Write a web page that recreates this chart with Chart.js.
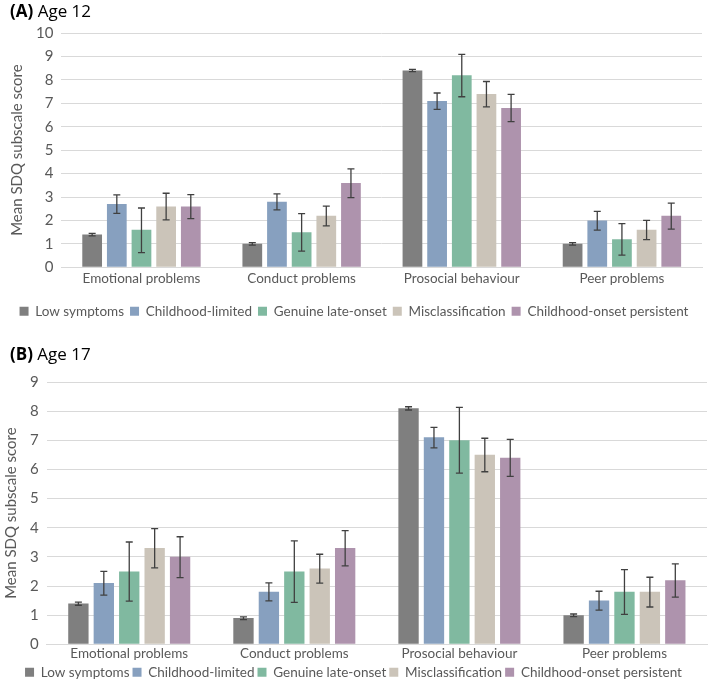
<!DOCTYPE html>
<html>
<head>
<meta charset="utf-8">
<script src="https://cdn.jsdelivr.net/npm/chart.js@4.4.1/dist/chart.umd.min.js"></script>
<style>
  html, body { margin:0; padding:0; background:#fff; }
  body { width:709px; height:689px; position:relative; overflow:hidden; font-family:Lato, sans-serif; }
  .wrap { position:absolute; left:0; width:709px; }
  .title { position:absolute; left:10px; font-size:17px; color:#000; font-family:"Open Sans", sans-serif; }
  .title b { font-weight:700; }
</style>
</head>
<body>
<div class="wrap" style="top:0;height:330px;"><canvas id="cA"></canvas></div>
<div class="wrap" style="top:330px;height:359px;"><canvas id="cB"></canvas></div>
<div class="title" style="top:-1px;"><b>(A)</b> Age 12</div>
<div class="title" style="top:342px;"><b>(B)</b> Age 17</div>
<script>
const categories = ["Emotional problems", "Conduct problems", "Prosocial behaviour", "Peer problems"];
const groups = ["Low symptoms", "Childhood-limited", "Genuine late-onset", "Misclassification", "Childhood-onset persistent"];
const groupColors = ["#7f7f7f", "#87a0bf", "#80b9a0", "#cbc4b9", "#ae93ad"];

// Age 12: means per group (order of categories)
const age12Low   = [1.4, 1.0, 8.4, 1.0];
const age12CL    = [2.7, 2.8, 7.1, 2.0];
const age12GLO   = [1.6, 1.5, 8.2, 1.2];
const age12Mis   = [2.6, 2.2, 7.4, 1.6];
const age12COP   = [2.6, 3.6, 6.8, 2.2];
// Age 12: error bar lower / upper
const age12LowLo = [1.34, 0.95, 8.35, 0.95];
const age12LowHi = [1.45, 1.05, 8.45, 1.05];
const age12CLLo  = [2.30, 2.45, 6.74, 1.59];
const age12CLHi  = [3.09, 3.13, 7.44, 2.39];
const age12GLOLo = [0.63, 0.69, 7.28, 0.52];
const age12GLOHi = [2.53, 2.29, 9.09, 1.86];
const age12MisLo = [2.02, 1.77, 6.85, 1.18];
const age12MisHi = [3.16, 2.61, 7.93, 2.00];
const age12COPLo = [2.08, 2.97, 6.22, 1.63];
const age12COPHi = [3.10, 4.20, 7.38, 2.74];

// Age 17
const age17Low   = [1.4, 0.9, 8.1, 1.0];
const age17CL    = [2.1, 1.8, 7.1, 1.5];
const age17GLO   = [2.5, 2.5, 7.0, 1.8];
const age17Mis   = [3.3, 2.6, 6.5, 1.8];
const age17COP   = [3.0, 3.3, 6.4, 2.2];
const age17LowLo = [1.34, 0.85, 8.04, 0.95];
const age17LowHi = [1.45, 0.94, 8.15, 1.04];
const age17CLLo  = [1.69, 1.49, 6.74, 1.17];
const age17CLHi  = [2.50, 2.11, 7.44, 1.82];
const age17GLOLo = [1.48, 1.44, 5.87, 1.03];
const age17GLOHi = [3.51, 3.55, 8.13, 2.56];
const age17MisLo = [2.62, 2.10, 5.92, 1.28];
const age17MisHi = [3.97, 3.09, 7.07, 2.30];
const age17COPLo = [2.29, 2.69, 5.76, 1.62];
const age17COPHi = [3.69, 3.90, 7.03, 2.76];

const yTicksA = [0,1,2,3,4,5,6,7,8,9,10];
const yTicksB = [0,1,2,3,4,5,6,7,8,9];

const textColor = "#595959";
const fontFam = "Lato, sans-serif";

const errorBarPlugin = {
  id: "errorBars",
  afterDatasetsDraw(chart) {
    const ctx = chart.ctx;
    const yScale = chart.scales.y;
    ctx.save();
    ctx.strokeStyle = "#404040";
    ctx.lineWidth = 1.3;
    chart.data.datasets.forEach((ds, i) => {
      const meta = chart.getDatasetMeta(i);
      meta.data.forEach((bar, j) => {
        const lo = yScale.getPixelForValue(ds.errLo[j]);
        const hi = yScale.getPixelForValue(ds.errHi[j]);
        const x = bar.x;
        const cap = 3.5;
        ctx.beginPath();
        ctx.moveTo(x, lo); ctx.lineTo(x, hi);
        ctx.moveTo(x - cap, lo); ctx.lineTo(x + cap, lo);
        ctx.moveTo(x - cap, hi); ctx.lineTo(x + cap, hi);
        ctx.stroke();
      });
    });
    ctx.restore();
  }
};

function makeDatasets(means, los, his) {
  return groups.map((g, i) => ({
    label: g,
    data: means[i],
    errLo: los[i],
    errHi: his[i],
    backgroundColor: groupColors[i],
    borderWidth: 0,
    categoryPercentage: 0.77,
    barPercentage: 0.8
  }));
}

function makeChart(id, datasets, ticks, pad, xTickPad, xExtra, legendPad) {
  return new Chart(document.getElementById(id), {
    type: "bar",
    data: { labels: categories, datasets },
    plugins: [errorBarPlugin],
    options: {
      responsive: true,
      maintainAspectRatio: false,
      animation: false,
      layout: { padding: pad },
      plugins: {
        legend: {
          position: "bottom",
          labels: {
            color: textColor,
            font: { family: fontFam, size: 13.5 },
            boxWidth: 9, boxHeight: 9,
            padding: legendPad,
          }
        },
        tooltip: { enabled: false }
      },
      scales: {
        x: {
          grid: { display: false, drawTicks: false },
          border: { display: true, color: "#d9d9d9", width: 1 },
          ticks: { color: textColor, font: { family: fontFam, size: 13.5 }, padding: xTickPad },
          afterFit(scale) { scale.height += xExtra; }
        },
        y: {
          min: 0, max: ticks[ticks.length - 1],
          afterBuildTicks(scale) { scale.ticks = ticks.map(v => ({ value: v })); },
          grid: { color: "#d9d9d9", lineWidth: 1, drawTicks: false },
          border: { display: false },
          ticks: { color: textColor, font: { family: fontFam, size: 15 }, padding: 8 },
          title: { display: true, text: "Mean SDQ subscale score", color: textColor, font: { family: fontFam, size: 15 }, padding: 2 }
        }
      }
    }
  });
}

makeChart("cA", makeDatasets(
  [age12Low, age12CL, age12GLO, age12Mis, age12COP],
  [age12LowLo, age12CLLo, age12GLOLo, age12MisLo, age12COPLo],
  [age12LowHi, age12CLHi, age12GLOHi, age12MisHi, age12COPHi]
), yTicksA, { top: 33, left: 6, right: 7, bottom: 2 }, 3, 9, 6);

makeChart("cB", makeDatasets(
  [age17Low, age17CL, age17GLO, age17Mis, age17COP],
  [age17LowLo, age17CLLo, age17GLOLo, age17MisLo, age17COPLo],
  [age17LowHi, age17CLHi, age17GLOHi, age17MisHi, age17COPHi]
), yTicksB, { top: 52, left: 0, right: 2, bottom: 0 }, 1, 0, 3);
</script>
</body>
</html>
